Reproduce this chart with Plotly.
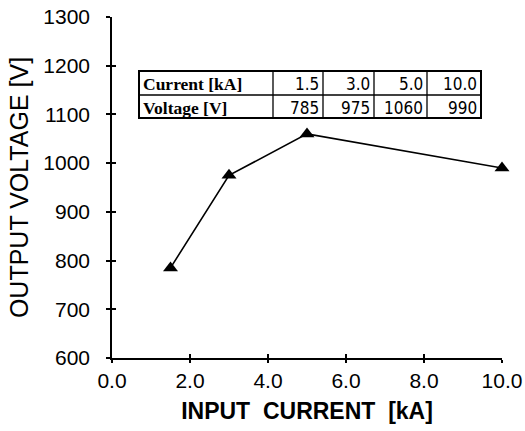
import plotly.graph_objects as go

current = [1.5, 3.0, 5.0, 10.0]
voltage = [785, 975, 1060, 990]
current_labels = ["1.5", "3.0", "5.0", "10.0"]
voltage_labels = ["785", "975", "1060", "990"]
row_labels = ["Current [kA]", "Voltage [V]"]
x_ticks = [0, 2, 4, 6, 8, 10]
x_tick_text = ["0.0", "2.0", "4.0", "6.0", "8.0", "10.0"]
y_ticks = [600, 700, 800, 900, 1000, 1100, 1200, 1300]

# layout geometry (pixels of the 525x431 canvas)
W, H = 525, 431
ML, MR, MT, MB = 112, 23, 17, 73
col_edges_px = [139, 273, 323, 374, 427, 481]
row_edges_px = [71, 95, 118]


def px_x(p):
    return (p - ML) / (W - ML - MR)


def px_y(p):
    return (H - MB - p) / (H - MT - MB)


fig = go.Figure()
fig.add_trace(go.Scatter(
    x=current, y=voltage, mode="lines+markers",
    line=dict(color="black", width=1.6),
    marker=dict(symbol="triangle-up", size=13, color="black"),
    cliponaxis=False, showlegend=False,
))
fig.add_trace(go.Scatter(x=[None], y=[None], xaxis="x2", yaxis="y2", showlegend=False))

# table drawn with shapes + annotations
shapes = []
x0, x1 = px_x(col_edges_px[0]), px_x(col_edges_px[-1])
y0, y1 = px_y(row_edges_px[-1]), px_y(row_edges_px[0])
shapes.append(dict(type="rect", xref="paper", yref="paper", x0=x0, x1=x1, y0=y0, y1=y1,
                   line=dict(color="black", width=2), fillcolor="white", layer="above"))
for cx in col_edges_px[1:-1]:
    shapes.append(dict(type="line", xref="paper", yref="paper", x0=px_x(cx), x1=px_x(cx), y0=y0, y1=y1,
                       line=dict(color="black", width=1.3)))
for ry in row_edges_px[1:-1]:
    shapes.append(dict(type="line", xref="paper", yref="paper", x0=x0, x1=x1, y0=px_y(ry), y1=px_y(ry),
                       line=dict(color="black", width=1.3)))

annotations = []
rows = [current_labels, voltage_labels]
for r, (label, vals) in enumerate(zip(row_labels, rows)):
    yc = px_y((row_edges_px[r] + row_edges_px[r + 1]) / 2 + 1)
    annotations.append(dict(xref="paper", yref="paper", x=px_x(col_edges_px[0] + 2), y=yc,
                            xanchor="left", yanchor="middle", showarrow=False,
                            text="<b>" + label + "</b>",
                            font=dict(family="Liberation Serif", size=17.5, color="black")))
    for c, v in enumerate(vals):
        annotations.append(dict(xref="paper", yref="paper", x=px_x(col_edges_px[c + 2] - 2), y=yc,
                                xanchor="right", yanchor="middle", showarrow=False, text=v,
                                font=dict(family="Liberation Sans Narrow, DejaVu Sans Condensed, Liberation Sans",
                                          size=17, color="black")))

axis_font = dict(family="Liberation Sans", size=21, color="black")
fig.update_layout(
    width=W, height=H,
    margin=dict(l=ML, r=MR, t=MT, b=MB),
    paper_bgcolor="white", plot_bgcolor="white",
    font=dict(family="Liberation Sans", color="black"),
    shapes=shapes, annotations=annotations,
    xaxis=dict(
        range=[0, 10], tickvals=x_ticks, ticktext=x_tick_text, automargin=False,
        showline=True, linecolor="black", linewidth=1.5,
        ticks="outside", ticklen=3, tickcolor="black", tickwidth=1.5,
        showgrid=False, zeroline=False, tickfont=axis_font,
        title=dict(text="<b>INPUT  CURRENT  [kA]</b>", font=dict(family="Liberation Sans", size=23, color="black"), standoff=12),
    ),
    yaxis=dict(
        range=[600, 1300], tickvals=y_ticks, automargin=False,
        showline=True, linecolor="black", linewidth=1.5,
        ticks="outside", ticklen=4, tickcolor="black", tickwidth=1.5, ticklabelstandoff=12,
        showgrid=False, zeroline=False, tickfont=axis_font,
        title=dict(text="OUTPUT VOLTAGE [V]", font=dict(family="Liberation Sans", size=25, color="black"), standoff=8),
    ),
    xaxis2=dict(range=[0, 10], tickvals=x_ticks, overlaying="x", ticks="inside", ticklen=4,
                tickcolor="black", tickwidth=1.5, showticklabels=False, showgrid=False, zeroline=False,
                anchor="y", automargin=False),
    yaxis2=dict(range=[600, 1300], tickvals=y_ticks, overlaying="y", ticks="inside", ticklen=4,
                tickcolor="black", tickwidth=1.5, showticklabels=False, showgrid=False, zeroline=False,
                anchor="x", side="left", automargin=False),
)

fig.write_html("out.html", config={"displayModeBar": False},
               post_script="document.body.style.margin='0';document.body.style.overflow='hidden';")
